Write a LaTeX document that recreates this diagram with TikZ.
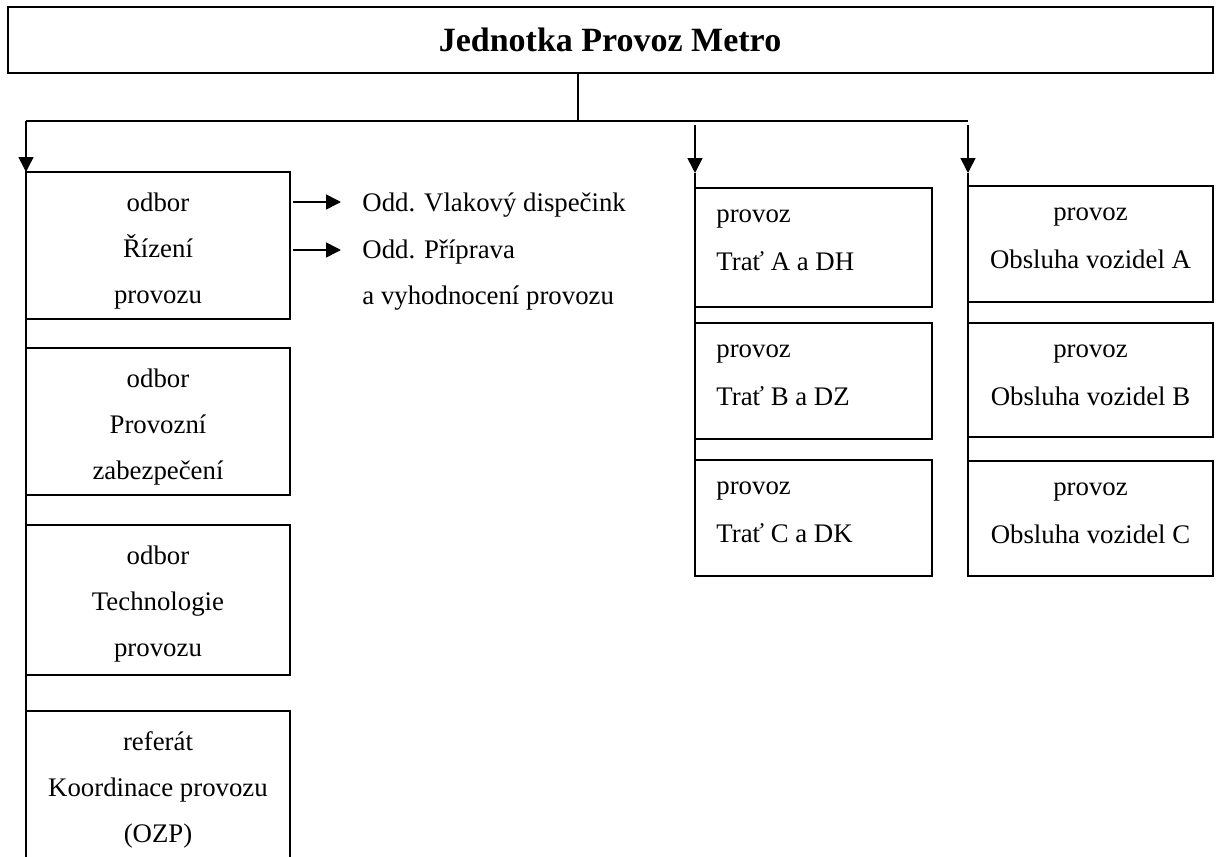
\documentclass[tikz,border=0pt]{standalone}
\usepackage{fontspec}
\setmainfont{Liberation Serif}
\usetikzlibrary{arrows.meta,fit}
\begin{document}
\begin{tikzpicture}[x=0.5pt,y=-0.5pt,
  box/.style={draw, line width=0.8pt, inner sep=0pt, outer sep=0pt},
  txt/.style={anchor=base, inner sep=0pt, font=\fontsize{13.4}{16}\selectfont},
  ltxt/.style={txt, anchor=base west},
  conn/.style={line width=0.8pt},
  arr/.style={conn, -{Triangle[width=7.5pt,length=7.5pt]}}]
\path[use as bounding box, clip] (0,0) rectangle (1222,857);

% top box
\node[box, line width=1pt, fit={(8,7) (1213,73)}] (top) {};
\node[anchor=base, inner sep=0pt, font=\fontsize{17}{20}\selectfont\bfseries] (title) at (610,51) {Jednotka Provoz Metro};

% left column
\node[box, fit={(26,172) (290,319)}] (L1) {};
\node[box, fit={(26,348) (290,495)}] (L2) {};
\node[box, fit={(26,525) (290,675)}] (L3) {};
\node[box, fit={(26,711) (290,859)}] (L4) {};

% middle column
\node[box, fit={(695,188) (932,307)}] (M1) {};
\node[box, fit={(695,323) (932,439)}] (M2) {};
\node[box, fit={(695,460) (932,576)}] (M3) {};

% right column
\node[box, fit={(968,186) (1213,302)}] (R1) {};
\node[box, fit={(968,323) (1213,437)}] (R2) {};
\node[box, fit={(968,461) (1213,576)}] (R3) {};

% texts left
\node[txt] (L1a) at (158,211) {odbor};
\node[txt] (L1b) at (158,257) {Řízení};
\node[txt] (L1c) at (158,303) {provozu};
\node[txt] (L2a) at (158,387) {odbor};
\node[txt] (L2b) at (158,433) {Provozní};
\node[txt] (L2c) at (158,479) {zabezpečení};
\node[txt] (L3a) at (158,564) {odbor};
\node[txt] (L3b) at (158,610) {Technologie};
\node[txt] (L3c) at (158,656) {provozu};
\node[txt] (L4a) at (158,750) {referát};
\node[txt] (L4b) at (158,796) {Koordinace provozu};
\node[txt] (L4c) at (158,842) {(OZP)};

% side texts
\node[ltxt] (d1) at (362,211) {Odd. Vlakový dispečink};
\node[ltxt] (d2) at (362,258) {Odd. Příprava};
\node[ltxt] (d3) at (362,304) {a vyhodnocení provozu};

% middle texts
\node[ltxt] (M1a) at (716,222) {provoz};
\node[ltxt] (M1b) at (716,270) {Trať A a DH};
\node[ltxt] (M2a) at (716,357) {provoz};
\node[ltxt] (M2b) at (716,405) {Trať B a DZ};
\node[ltxt] (M3a) at (716,494) {provoz};
\node[ltxt] (M3b) at (716,542) {Trať C a DK};

% right texts
\node[txt] (R1a) at (1090.5,220) {provoz};
\node[txt] (R1b) at (1090.5,268) {Obsluha vozidel A};
\node[txt] (R2a) at (1090.5,357) {provoz};
\node[txt] (R2b) at (1090.5,405) {Obsluha vozidel B};
\node[txt] (R3a) at (1090.5,495) {provoz};
\node[txt] (R3b) at (1090.5,543) {Obsluha vozidel C};

% junction coordinates
\coordinate (j0) at (578,121);
\coordinate (jL) at (26,121);
\coordinate (jR) at (968,121);
\coordinate (sM) at (695,125);
\coordinate (tM) at (695,173);
\coordinate (sR) at (968,125);
\coordinate (tR) at (968,173);
\coordinate (a1) at (341,202);
\coordinate (a2) at (341,250);

% connectors
\draw[conn] (j0 |- top.south) -- (j0);
\draw[conn] (jL) -- (jR);
\draw[arr] (jL) -- (L1.north west);
\draw[arr] (sM) -- (tM);
\draw[conn] (tM) -- (M1.north west);
\draw[arr] (sR) -- (tR);
\draw[conn] (tR) -- (R1.north west);

\draw[conn] (L1.south west) -- (L2.north west);
\draw[conn] (L2.south west) -- (L3.north west);
\draw[conn] (L3.south west) -- (L4.north west);
\draw[conn] (M1.south west) -- (M2.north west);
\draw[conn] (M2.south west) -- (M3.north west);
\draw[conn] (R1.south west) -- (R2.north west);
\draw[conn] (R2.south west) -- (R3.north west);

\draw[arr, shorten <=1.5pt] (L1.east |- a1) -- (a1);
\draw[arr, shorten <=1.5pt] (L1.east |- a2) -- (a2);
\end{tikzpicture}
\end{document}
